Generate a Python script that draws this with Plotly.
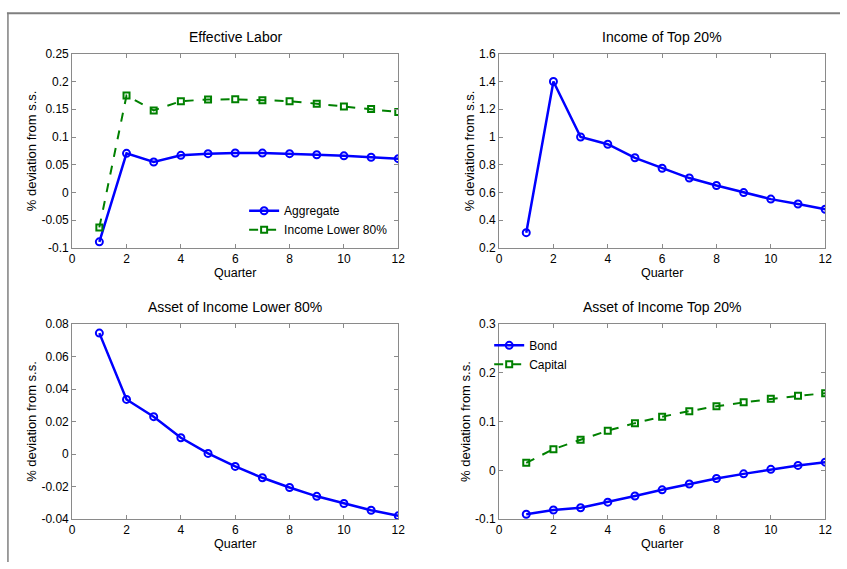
import plotly.graph_objects as go

W, H = 847, 569
FONT = "Liberation Sans, Arial, sans-serif"

quarters = list(range(1, 13))

# Effective Labor
labor_aggregate = [-0.089, 0.0705, 0.055, 0.067, 0.070, 0.0712, 0.071, 0.070, 0.068, 0.066, 0.0635, 0.061]
labor_lower80 = [-0.063, 0.1747, 0.148, 0.1647, 0.1676, 0.168, 0.1665, 0.1647, 0.160, 0.155, 0.1506, 0.145]

# Income of Top 20%
income_top20 = [0.31, 1.40, 1.00, 0.948, 0.85, 0.775, 0.704, 0.65, 0.599, 0.552, 0.517, 0.479]

# Asset of Income Lower 80%
asset_lower80 = [0.0744, 0.0336, 0.023, 0.010, 0.0004, -0.0076, -0.0146, -0.0206, -0.026, -0.0304, -0.0346, -0.038]

# Asset of Income Top 20%
asset_bond = [-0.090, -0.0813, -0.0767, -0.0653, -0.0527, -0.040, -0.028, -0.0167, -0.0073, 0.002, 0.010, 0.0167]
asset_capital = [0.0153, 0.0433, 0.0627, 0.0813, 0.0967, 0.110, 0.1213, 0.1313, 0.1393, 0.1467, 0.1527, 0.158]

x_ticks = [0, 2, 4, 6, 8, 10, 12]
y_ticks_labor = [-0.1, -0.05, 0, 0.05, 0.1, 0.15, 0.2, 0.25]
y_text_labor = ["-0.1", "-0.05", "0", "0.05", "0.1", "0.15", "0.2", "0.25"]
y_ticks_income = [0.2, 0.4, 0.6, 0.8, 1.0, 1.2, 1.4, 1.6]
y_text_income = ["0.2", "0.4", "0.6", "0.8", "1", "1.2", "1.4", "1.6"]
y_ticks_asset_low = [-0.04, -0.02, 0, 0.02, 0.04, 0.06, 0.08]
y_text_asset_low = ["-0.04", "-0.02", "0", "0.02", "0.04", "0.06", "0.08"]
y_ticks_asset_top = [-0.1, 0, 0.1, 0.2, 0.3]
y_text_asset_top = ["-0.1", "0", "0.1", "0.2", "0.3"]

titles = ["Effective Labor", "Income of Top 20%", "Asset of Income Lower 80%", "Asset of Income Top 20%"]

BLUE = "#0000ff"
GREEN = "#008000"
AXIS_GRAY = "#8a8a8a"


def px_x(p):
    return p / W


def px_y(p):
    return 1 - p / H


# panel boxes in pixels: (left, right, top, bottom)
boxes = [(70, 400, 48, 247), (502, 832, 48, 247), (70, 400, 325, 525), (502, 832, 325, 525)]

fig = go.Figure()


def blue_trace(y, name, xa, ya, legend=None, show=False):
    return go.Scatter(
        x=quarters, y=y, name=name, mode="lines+markers",
        line=dict(color=BLUE, width=2.5),
        marker=dict(symbol="circle-open", size=7, color=BLUE, line=dict(width=2, color=BLUE)),
        xaxis=xa, yaxis=ya, showlegend=show, legend=legend,
    )


def green_trace(y, name, xa, ya, legend=None, show=False):
    return go.Scatter(
        x=quarters, y=y, name=name, mode="lines+markers",
        line=dict(color=GREEN, width=2, dash="dash"),
        marker=dict(symbol="square-open", size=6, color=GREEN, line=dict(width=2, color=GREEN)),
        xaxis=xa, yaxis=ya, showlegend=show, legend=legend,
    )


fig.add_trace(blue_trace(labor_aggregate, "Aggregate", "x", "y", "legend", True))
fig.add_trace(green_trace(labor_lower80, "Income Lower 80%", "x", "y", "legend", True))
fig.add_trace(blue_trace(income_top20, "Income of Top 20%", "x2", "y2"))
fig.add_trace(blue_trace(asset_lower80, "Asset of Income Lower 80%", "x3", "y3"))
fig.add_trace(blue_trace(asset_bond, "Bond", "x4", "y4", "legend2", True))
fig.add_trace(green_trace(asset_capital, "Capital", "x4", "y4", "legend2", True))

y_specs = [
    ([-0.1, 0.25], y_ticks_labor, y_text_labor),
    ([0.2, 1.6], y_ticks_income, y_text_income),
    ([-0.04, 0.08], y_ticks_asset_low, y_text_asset_low),
    ([-0.1, 0.3], y_ticks_asset_top, y_text_asset_top),
]

tick_font = dict(family=FONT, size=12, color="black")
layout = dict(
    width=W, height=H, margin=dict(l=0, r=0, t=0, b=0),
    paper_bgcolor="white", plot_bgcolor="white",
    font=dict(family=FONT, size=12, color="black"),
    showlegend=True,
)

for i, ((l, r, t, b), (yr, yv, yt)) in enumerate(zip(boxes, y_specs)):
    sfx = "" if i == 0 else str(i + 1)
    anchor_x = "y" + sfx
    anchor_y = "x" + sfx
    layout["xaxis" + sfx] = dict(
        domain=[px_x(l), px_x(r)], anchor=anchor_x, range=[0, 12],
        tickvals=x_ticks, ticktext=[str(v) for v in x_ticks],
        ticks="inside", ticklen=4, tickcolor=AXIS_GRAY, tickwidth=1,
        showline=True, linecolor=AXIS_GRAY, linewidth=1, mirror="ticks",
        showgrid=False, zeroline=False, tickfont=tick_font,
        title=dict(text="Quarter", font=dict(family=FONT, size=12.5, color="black"), standoff=2),
    )
    layout["yaxis" + sfx] = dict(
        domain=[px_y(b), px_y(t)], anchor=anchor_y, range=yr,
        tickvals=yv, ticktext=yt,
        ticks="inside", ticklen=4, tickcolor=AXIS_GRAY, tickwidth=1,
        showline=True, linecolor=AXIS_GRAY, linewidth=1, mirror="ticks",
        showgrid=False, zeroline=False, tickfont=tick_font,
        title=dict(text="% deviation from s.s.", font=dict(family=FONT, size=13, color="black"), standoff=1),
    )

layout["legend"] = dict(
    x=px_x(244), y=px_y(194), xanchor="left", yanchor="top",
    bgcolor="rgba(255,255,255,0)", borderwidth=0,
    font=dict(family=FONT, size=12, color="black"),
    tracegroupgap=0, itemwidth=30,
)
layout["legend2"] = dict(
    x=px_x(492), y=px_y(332), xanchor="left", yanchor="top",
    bgcolor="rgba(255,255,255,0)", borderwidth=0,
    font=dict(family=FONT, size=12, color="black"),
    tracegroupgap=0, itemwidth=30,
)

annotations = []
title_y = [31, 31, 308, 308]
for (l, r, t, b), text, ty in zip(boxes, titles, title_y):
    annotations.append(dict(
        text=text, xref="paper", yref="paper", x=px_x((l + r) / 2), y=px_y(ty),
        xanchor="center", yanchor="middle", showarrow=False,
        font=dict(family=FONT, size=14, color="black"),
    ))
layout["annotations"] = annotations

# outer frame lines along the top and left edges
layout["shapes"] = [
    dict(type="line", xref="paper", yref="paper", x0=px_x(4), x1=1, y0=px_y(6.5), y1=px_y(6.5),
         line=dict(color="#7f7f7f", width=2)),
    dict(type="line", xref="paper", yref="paper", x0=px_x(5), x1=px_x(5), y0=px_y(6), y1=0,
         line=dict(color="#7f7f7f", width=1.5)),
]

fig.update_layout(**layout)
fig.write_html("out.html")
